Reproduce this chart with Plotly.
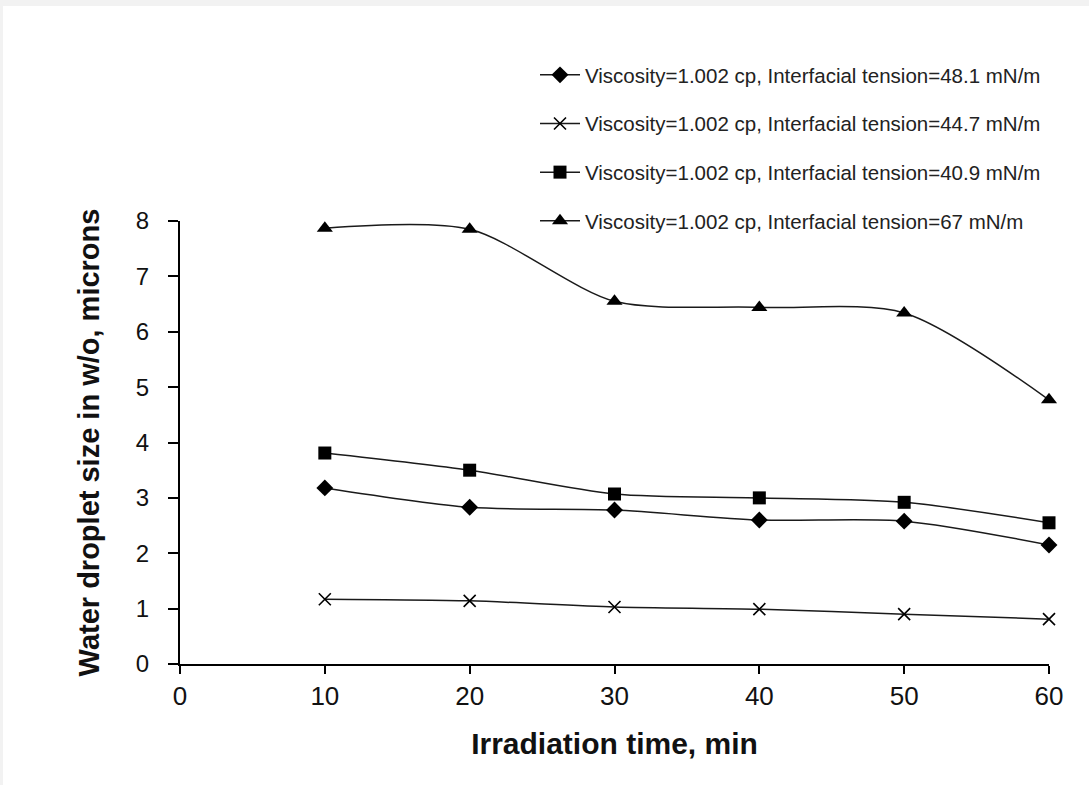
import plotly.graph_objects as go

time_min = [10, 20, 30, 40, 50, 60]
ift_48_1 = [3.18, 2.83, 2.78, 2.60, 2.58, 2.15]
ift_44_7 = [1.17, 1.14, 1.03, 0.99, 0.90, 0.81]
ift_40_9 = [3.81, 3.50, 3.07, 3.00, 2.92, 2.55]
ift_67 = [7.87, 7.85, 6.55, 6.44, 6.34, 4.77]

names = [
    "Viscosity=1.002 cp, Interfacial tension=48.1 mN/m",
    "Viscosity=1.002 cp, Interfacial tension=44.7 mN/m",
    "Viscosity=1.002 cp, Interfacial tension=40.9 mN/m",
    "Viscosity=1.002 cp, Interfacial tension=67 mN/m",
]
series = [ift_48_1, ift_44_7, ift_40_9, ift_67]
symbols = ["diamond", "x-thin", "square", "triangle-up"]
sizes = [13, 12, 13, 14]

fig = go.Figure()
for i, (nm, ys, sym, sz) in enumerate(zip(names, series, symbols, sizes)):
    fig.add_trace(go.Scatter(
        x=time_min, y=ys, name=nm, mode="lines+markers", cliponaxis=False,
        line=dict(color="#1a1a1a", width=1.5, shape="spline", smoothing=0.8),
        marker=dict(symbol=sym, size=sz, color="black",
                    line=dict(color="black", width=1.6 if sym == "x-thin" else 0)),
        legendgroup=f"g{i}",
    ))

W, H = 1089, 785
L, R, T, B = 180, 40, 221, 121
pw, ph = W - L - R, H - T - B

fig.update_layout(
    width=W, height=H,
    margin=dict(l=L, r=R, t=T, b=B),
    paper_bgcolor="#f2f2f2",
    plot_bgcolor="white",
    font=dict(family="Liberation Sans, Arial, sans-serif", color="#111"),
    showlegend=True,
    legend=dict(
        x=(535 - L) / pw, y=1 + (T - 55) / ph, xanchor="left", yanchor="top",
        bgcolor="rgba(0,0,0,0)", font=dict(size=20.5, color="#222"),
        traceorder="grouped", tracegroupgap=19, itemwidth=40,
    ),
    shapes=[dict(
        type="rect", xref="paper", yref="paper", layer="below",
        x0=(3 - L) / pw, x1=(W + 10 - L) / pw,
        y0=-(B + 10) / ph, y1=1 + (T - 6) / ph,
        fillcolor="white", line=dict(width=0),
    )],
)

fig.update_xaxes(
    range=[0, 60], tickvals=[0, 10, 20, 30, 40, 50, 60],
    showline=True, linecolor="black", linewidth=2,
    ticks="outside", ticklen=8, tickwidth=2, tickcolor="black",
    showgrid=False, zeroline=False,
    tickfont=dict(size=26, color="#111"), ticklabelstandoff=0,
    title=dict(text="<b>Irradiation time, min</b>", font=dict(size=30, color="#111"), standoff=23),
)
fig.update_yaxes(
    range=[0, 8], tickvals=[0, 1, 2, 3, 4, 5, 6, 7, 8],
    showline=True, linecolor="black", linewidth=2,
    ticks="outside", ticklen=10, tickwidth=2, tickcolor="black",
    showgrid=False, zeroline=False,
    tickfont=dict(size=24, color="#111"), ticklabelstandoff=14,
    title=dict(text="<b>Water droplet size in w/o, microns</b>", font=dict(size=29, color="#111"), standoff=28),
)

fig.write_html("out.html", config={"displayModeBar": False},
               post_script="document.body.style.margin='0px';")
